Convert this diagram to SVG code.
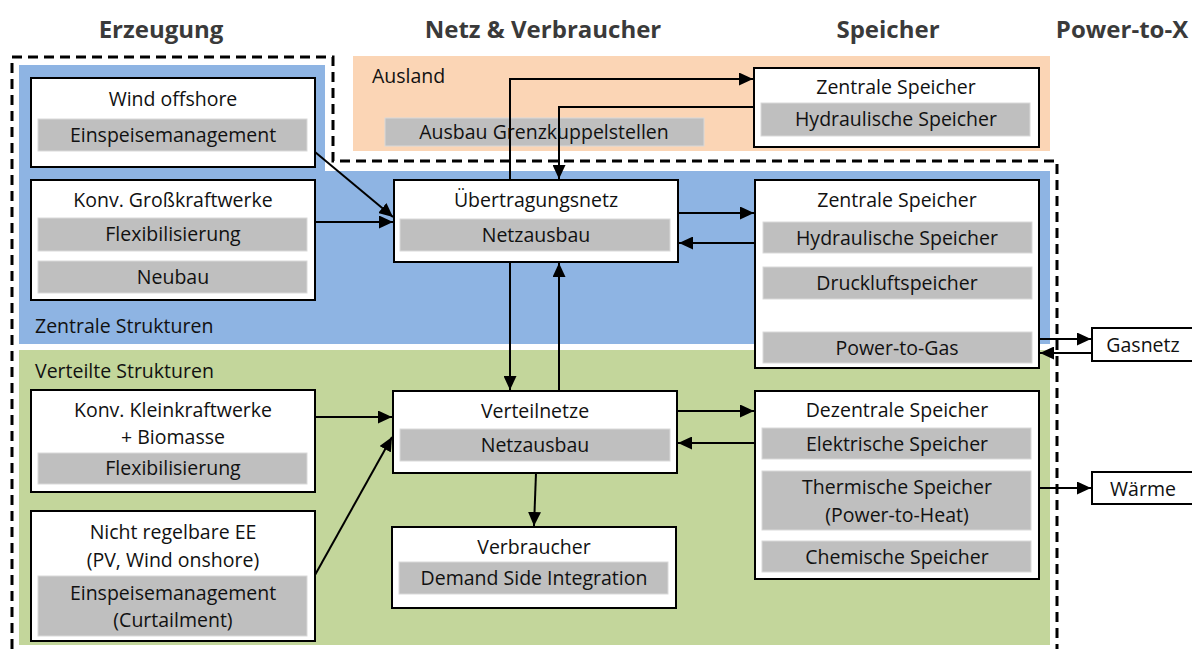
<svg xmlns="http://www.w3.org/2000/svg" width="1192" height="649" viewBox="0 0 1192 649">
  <style>
    .hd { font-family: "Open Sans", "Noto Sans", sans-serif; font-weight: bold; font-size: 24px; fill: #3a3a3a; text-anchor: middle; }
    .box { fill: #ffffff; stroke: #000000; stroke-width: 2; }
    .bar { fill: #bfbfbf; stroke: #d9d9d9; stroke-width: 1; }
    .t { font-family: "Open Sans", "Noto Sans", sans-serif; font-size: 19.5px; fill: #111111; text-anchor: middle; }
    .lbl { font-family: "Open Sans", "Noto Sans", sans-serif; font-size: 19.5px; fill: #111111; }
    .ln { fill: none; stroke: #000000; stroke-width: 2; }
    .dash { fill: none; stroke: #000000; stroke-width: 3; stroke-dasharray: 10 6; }
  </style>
  <defs>
    <marker id="ah" viewBox="0 0 14 13" refX="14" refY="6.5" markerWidth="14" markerHeight="13" markerUnits="userSpaceOnUse" orient="auto">
      <path d="M0,0 L14,6.5 L0,13 Z" fill="#000000"/>
    </marker>
  </defs>

  <rect width="1192" height="649" fill="#ffffff"/>

  <!-- column headings -->
  <text class="hd" x="161" y="38">Erzeugung</text>
  <text class="hd" x="543" y="38">Netz &amp; Verbraucher</text>
  <text class="hd" x="888" y="38">Speicher</text>
  <text class="hd" x="1122" y="38">Power-to-X</text>

  <!-- background regions -->
  <g id="region-ausland">
    <rect x="353" y="56" width="697" height="95" fill="#fbd5b5"/>
    <text class="lbl" x="372" y="83">Ausland</text>
  </g>
  <g id="region-zentral">
    <path d="M19,65 H325 V171 H1050 V344 H19 Z" fill="#8eb4e3"/>
    <text class="lbl" x="35" y="333">Zentrale Strukturen</text>
  </g>
  <g id="region-verteilt">
    <rect x="19" y="350" width="1031" height="295" fill="#c3d69b"/>
    <text class="lbl" x="35" y="378">Verteilte Strukturen</text>
  </g>

  <!-- system boundary -->
  <path class="dash" d="M12,649 V57 H333 V161 H1057 V649"/>

  <g id="ausbau-grenzkuppelstellen">
    <rect class="bar" x="385" y="118" width="319" height="28"/>
    <text class="t" x="544" y="139">Ausbau Grenzkuppelstellen</text>
  </g>

  <!-- generation -->
  <g id="wind-offshore">
    <rect class="box" x="31" y="78" width="284" height="89"/>
    <text class="t" x="173" y="106">Wind offshore</text>
    <rect class="bar" x="38" y="119" width="269" height="32"/>
    <text class="t" x="173" y="142">Einspeisemanagement</text>
  </g>
  <g id="konv-grosskraftwerke">
    <rect class="box" x="31" y="180" width="284" height="120"/>
    <text class="t" x="173" y="207">Konv. Großkraftwerke</text>
    <rect class="bar" x="38" y="218" width="269" height="33"/>
    <text class="t" x="173" y="241">Flexibilisierung</text>
    <rect class="bar" x="38" y="261" width="269" height="32"/>
    <text class="t" x="173" y="284">Neubau</text>
  </g>
  <g id="konv-kleinkraftwerke">
    <rect class="box" x="31" y="390" width="284" height="102"/>
    <text class="t" x="173" y="417">Konv. Kleinkraftwerke</text>
    <text class="t" x="173" y="444">+ Biomasse</text>
    <rect class="bar" x="38" y="453" width="269" height="31"/>
    <text class="t" x="173" y="475">Flexibilisierung</text>
  </g>
  <g id="nicht-regelbare-ee">
    <rect class="box" x="31" y="511" width="284" height="130"/>
    <text class="t" x="173" y="539">Nicht regelbare EE</text>
    <text class="t" x="173" y="567">(PV, Wind onshore)</text>
    <rect class="bar" x="38" y="576" width="269" height="60"/>
    <text class="t" x="173" y="600">Einspeisemanagement</text>
    <text class="t" x="173" y="627">(Curtailment)</text>
  </g>

  <!-- grids and consumers -->
  <g id="uebertragungsnetz">
    <rect class="box" x="394" y="180" width="284" height="82"/>
    <text class="t" x="536" y="207">Übertragungsnetz</text>
    <rect class="bar" x="400" y="219" width="270" height="32"/>
    <text class="t" x="536" y="242">Netzausbau</text>
  </g>
  <g id="verteilnetze">
    <rect class="box" x="393" y="391" width="284" height="82"/>
    <text class="t" x="535" y="418">Verteilnetze</text>
    <rect class="bar" x="400" y="429" width="270" height="32"/>
    <text class="t" x="535" y="452">Netzausbau</text>
  </g>
  <g id="verbraucher">
    <rect class="box" x="392" y="527" width="284" height="81"/>
    <text class="t" x="534" y="554">Verbraucher</text>
    <rect class="bar" x="399" y="562" width="269" height="32"/>
    <text class="t" x="534" y="585">Demand Side Integration</text>
  </g>

  <!-- storage -->
  <g id="zentrale-speicher-ausland">
    <rect class="box" x="754" y="68" width="285" height="79"/>
    <text class="t" x="896" y="94">Zentrale Speicher</text>
    <rect class="bar" x="761" y="103" width="269" height="33"/>
    <text class="t" x="896" y="126">Hydraulische Speicher</text>
  </g>
  <g id="zentrale-speicher">
    <rect class="box" x="755" y="180" width="284" height="188"/>
    <text class="t" x="897" y="207">Zentrale Speicher</text>
    <rect class="bar" x="763" y="222" width="269" height="31"/>
    <text class="t" x="897" y="245">Hydraulische Speicher</text>
    <rect class="bar" x="763" y="267" width="269" height="32"/>
    <text class="t" x="897" y="290">Druckluftspeicher</text>
    <rect class="bar" x="763" y="332" width="269" height="31"/>
    <text class="t" x="897" y="355">Power-to-Gas</text>
  </g>
  <g id="dezentrale-speicher">
    <rect class="box" x="755" y="391" width="284" height="188"/>
    <text class="t" x="897" y="417">Dezentrale Speicher</text>
    <rect class="bar" x="762" y="428" width="269" height="31"/>
    <text class="t" x="897" y="451">Elektrische Speicher</text>
    <rect class="bar" x="762" y="471" width="269" height="59"/>
    <text class="t" x="897" y="494">Thermische Speicher</text>
    <text class="t" x="897" y="522">(Power-to-Heat)</text>
    <rect class="bar" x="762" y="541" width="269" height="31"/>
    <text class="t" x="897" y="564">Chemische Speicher</text>
  </g>

  <!-- power-to-x sinks -->
  <g id="gasnetz">
    <rect class="box" x="1092" y="328" width="104" height="33"/>
    <text class="t" x="1143" y="352">Gasnetz</text>
  </g>
  <g id="waerme">
    <rect class="box" x="1092" y="472" width="104" height="32"/>
    <text class="t" x="1143" y="496">Wärme</text>
  </g>

  <!-- connectors -->
  <g id="connectors">
    <line class="ln" x1="315" y1="152" x2="393" y2="217" marker-end="url(#ah)"/>
    <line class="ln" x1="315" y1="222" x2="393" y2="222" marker-end="url(#ah)"/>
    <polyline class="ln" points="510,180 510,79 753,79" marker-end="url(#ah)"/>
    <polyline class="ln" points="754,107 559,107 559,179" marker-end="url(#ah)"/>
    <line class="ln" x1="678" y1="213" x2="754" y2="213" marker-end="url(#ah)"/>
    <line class="ln" x1="755" y1="243" x2="679" y2="243" marker-end="url(#ah)"/>
    <line class="ln" x1="510" y1="262" x2="510" y2="390" marker-end="url(#ah)"/>
    <line class="ln" x1="559" y1="391" x2="559" y2="263" marker-end="url(#ah)"/>
    <line class="ln" x1="677" y1="411" x2="754" y2="411" marker-end="url(#ah)"/>
    <line class="ln" x1="755" y1="443" x2="678" y2="443" marker-end="url(#ah)"/>
    <line class="ln" x1="536" y1="473" x2="534" y2="526" marker-end="url(#ah)"/>
    <line class="ln" x1="315" y1="417" x2="392" y2="417" marker-end="url(#ah)"/>
    <line class="ln" x1="315" y1="575" x2="392" y2="437" marker-end="url(#ah)"/>
    <line class="ln" x1="1039" y1="339" x2="1091" y2="339" marker-end="url(#ah)"/>
    <line class="ln" x1="1092" y1="353" x2="1040" y2="353" marker-end="url(#ah)"/>
    <line class="ln" x1="1039" y1="488" x2="1091" y2="488" marker-end="url(#ah)"/>
  </g>
</svg>
